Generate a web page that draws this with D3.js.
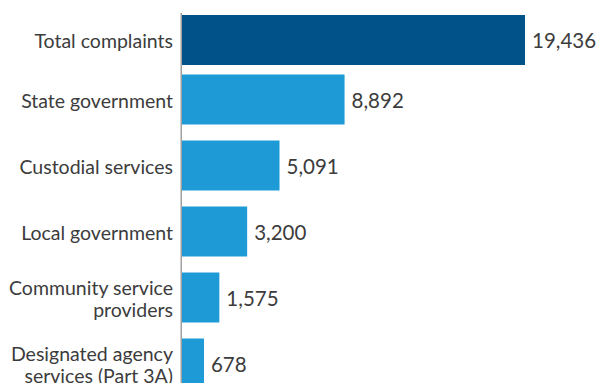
<!DOCTYPE html>
<html>
<head>
<meta charset="utf-8">
<script src="https://cdn.jsdelivr.net/npm/d3@7"></script>
<style>
  html, body { margin: 0; padding: 0; background: #ffffff; }
  svg { display: block; }
  text { font-family: Lato, "Open Sans", sans-serif; font-weight: 400; fill: #3c3c3c; }
</style>
</head>
<body>
<svg id="chart" width="598" height="383"></svg>
<script>
// Complaints received: overall total, then the breakdown by sector
const totalLabel = ["Total complaints"];
const totalValue = 19436;
const sectors = [
  ["State government"],
  ["Custodial services"],
  ["Local government"],
  ["Community service", "providers"],
  ["Designated agency", "services (Part 3A)"]
];
const sectorValues = [8892, 5091, 3200, 1575, 678];
const totalColor = "#02528a";
const sectorColor = "#1e9bd7";

const rows = [{ label: totalLabel, value: totalValue, color: totalColor }]
  .concat(sectors.map((s, i) => ({ label: s, value: sectorValues[i], color: sectorColor })));

const svg = d3.select("#chart");
const axisX = 181;

// Sector rows share a band scale; the total row sits just above them with a tighter gap
const ySector = d3.scaleBand()
  .domain(d3.range(sectors.length))
  .range([66.5, 396.5])
  .paddingInner(0.2424)
  .paddingOuter(0.1212);
const bw = ySector.bandwidth();
const totalGap = 9.5;
const yRow = (d, i) => i === 0 ? ySector(0) - totalGap - bw : ySector(i - 1);

// Value axis begins a little below zero so the smallest bars keep some length
const xMin = -666;
const x = d3.scaleLinear()
  .domain([xMin, totalValue])
  .range([axisX, 525]);

const fmt = d3.format(",");

svg.selectAll("rect.bar")
  .data(rows)
  .join("rect")
  .attr("class", "bar")
  .attr("x", x(xMin) + 1)
  .attr("y", yRow)
  .attr("width", d => x(d.value) - x(xMin) - 1)
  .attr("height", bw)
  .attr("fill", d => d.color);

// Vertical axis line
svg.append("line")
  .attr("x1", axisX + 0.25).attr("x2", axisX + 0.25)
  .attr("y1", 13).attr("y2", 383)
  .attr("stroke", "#a0a0a0")
  .attr("stroke-width", 1.5);

// Category labels
const lineH = 21.5;
svg.selectAll("text.cat")
  .data(rows)
  .join("text")
  .attr("class", "cat")
  .attr("text-anchor", "end")
  .attr("font-size", 19.5)
  .each(function(d, i) {
    const cy = yRow(d, i) + bw / 2;
    const lines = d.label;
    d3.select(this).selectAll("tspan")
      .data(lines)
      .join("tspan")
      .attr("x", axisX - 8)
      .attr("y", (ln, j) => cy + 8.5 + (j - (lines.length - 1) / 2) * lineH)
      .text(ln => ln);
  });

// Value labels
svg.selectAll("text.val")
  .data(rows)
  .join("text")
  .attr("class", "val")
  .attr("x", d => x(d.value) + 7)
  .attr("y", (d, i) => yRow(d, i) + bw / 2 + 8)
  .attr("font-size", 20.5)
  .text(d => fmt(d.value));
</script>
</body>
</html>
